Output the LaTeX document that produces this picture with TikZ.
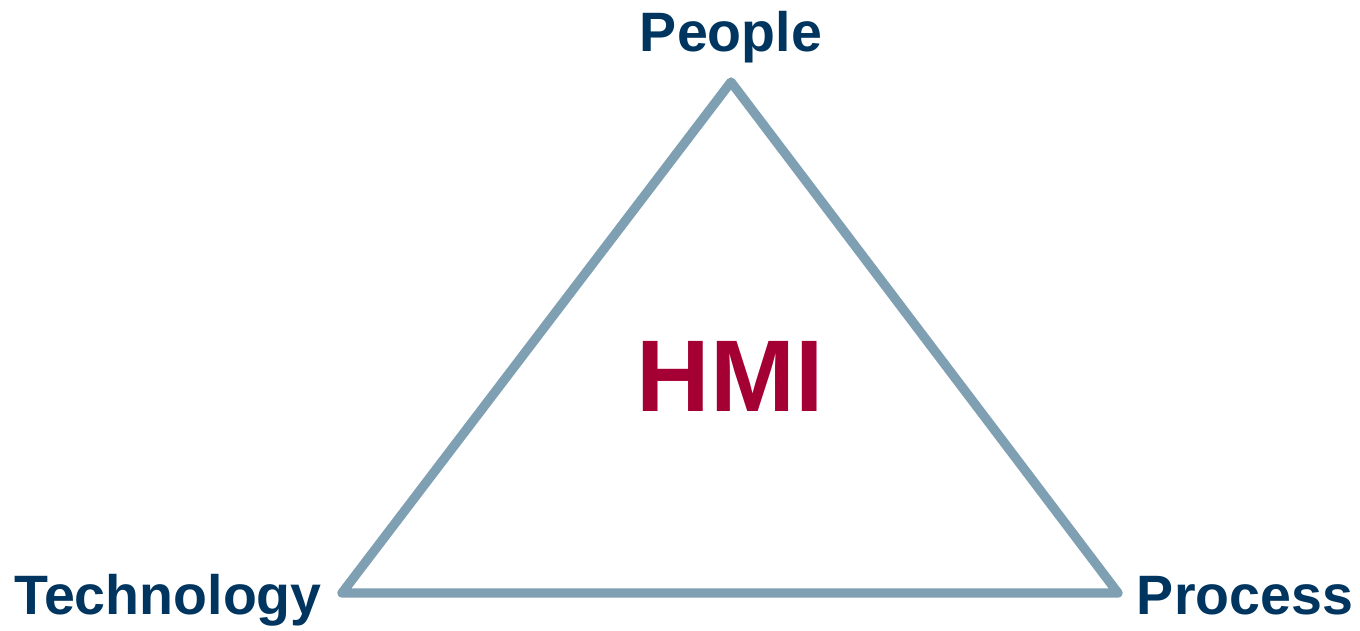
\documentclass[tikz,border=0pt]{standalone}
\usepackage{fontspec}
\setmainfont{Liberation Sans}
\definecolor{navyblue}{RGB}{0,53,95}
\definecolor{hmired}{RGB}{165,0,52}
\definecolor{edgegray}{RGB}{127,159,179}
\begin{document}
\begin{tikzpicture}[x=0.02cm, y=0.02cm,
  corner/.style={anchor=base, inner sep=0pt, text=navyblue, font=\fontsize{31.6}{36}\selectfont\bfseries},
  centre/.style={anchor=base, inner sep=0pt, text=hmired, font=\fontsize{58}{66}\selectfont\bfseries},
  edge/.style={draw=edgegray, line width=5.3pt, line join=round, line cap=round}]
\useasboundingbox (0, 0) rectangle (1360, 630);

% Corners of the triangle
\coordinate (top) at (731, 548);
\coordinate (left) at (342, 37);
\coordinate (right) at (1118, 37);

% Triangle
\draw[edge] (top) -- (right) -- (left) -- cycle;

% Labels
\node[corner] (people) at (731, 578) {People};
\node[corner] (technology) at (168, 16) {Technology};
\node[corner] (process) at (1245, 16) {Process};
\node[centre] (hmi) at (730, 219) {HMI};

\end{tikzpicture}
\end{document}
